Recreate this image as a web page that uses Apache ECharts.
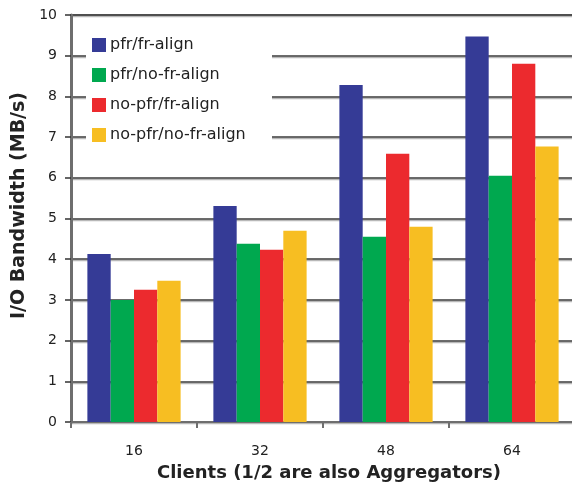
<!DOCTYPE html>
<html><head><meta charset="utf-8">
<script src="https://cdn.jsdelivr.net/npm/echarts@6/dist/echarts.min.js"></script>
<style>html,body{margin:0;padding:0;background:#fff}#c{width:572px;height:489px}</style>
</head><body><div id="c"></div>
<script>
const categories = ['16', '32', '48', '64'];
const seriesNames = ['pfr/fr-align', 'pfr/no-fr-align', 'no-pfr/fr-align', 'no-pfr/no-fr-align'];
const pfrFrAlign = [4.13, 5.31, 8.28, 9.47];
const pfrNoFrAlign = [3.0, 4.38, 4.55, 6.05];
const noPfrFrAlign = [3.25, 4.23, 6.59, 8.8];
const noPfrNoFrAlign = [3.47, 4.7, 4.8, 6.77];
const colors = ['#353b96', '#00a84f', '#ec2a2e', '#f7be22'];
const font = "'DejaVu Sans', Verdana, sans-serif";
const values = [pfrFrAlign, pfrNoFrAlign, noPfrFrAlign, noPfrNoFrAlign];

const chart = echarts.init(document.getElementById('c'), null, {renderer: 'canvas'});
chart.setOption({
  animation: false,
  backgroundColor: '#fff',
  grid: {left: 71, top: 15, width: 504, height: 407, show: true, borderColor: '#8c8c8c', borderWidth: 2, containLabel: false, outerBoundsMode: 'none'},
  graphic: [{
    type: 'rect', left: 86, top: 28, z: 3,
    shape: {width: 186, height: 118},
    style: {fill: '#fff'}
  }],
  legend: {
    left: 86, top: 33,
    orient: 'vertical',
    padding: [4, 27, 8, 6],
    itemWidth: 14, itemHeight: 14, itemGap: 14,
    icon: 'rect',
    textStyle: {fontFamily: font, fontSize: 16, lineHeight: 14, color: '#222', padding: [0, 0, 0, -1]},
    data: seriesNames
  },
  xAxis: {
    type: 'category',
    data: categories,
    name: 'Clients (1/2 are also Aggregators)',
    nameLocation: 'middle',
    nameGap: 42,
    nameTextStyle: {fontFamily: font, fontSize: 18, fontWeight: 'bold', color: '#222', padding: [0, 0, 0, 12]},
    axisLine: {lineStyle: {color: '#6e6e6e', width: 2}},
    axisTick: {show: true, length: 6, lineStyle: {color: '#6e6e6e', width: 2}},
    axisLabel: {fontFamily: font, fontSize: 14, color: '#222', margin: 22}
  },
  yAxis: {
    type: 'value',
    min: 0, max: 10, interval: 1,
    name: 'I/O Bandwidth (MB/s)',
    nameLocation: 'middle',
    nameGap: 42,
    nameRotate: 90,
    nameTextStyle: {fontFamily: font, fontSize: 19, fontWeight: 'bold', color: '#222', padding: [0, 0, 0, 26]},
    axisLine: {show: true, lineStyle: {color: '#6e6e6e', width: 3}},
    axisTick: {show: true, length: 6, inside: false, lineStyle: {color: '#333', width: 1.5}},
    axisLabel: {fontFamily: font, fontSize: 14, color: '#222', margin: 14},
    splitLine: {show: true, lineStyle: {color: '#3a3a3a', width: 1.5, shadowColor: '#b8b8b8', shadowOffsetY: 1.5, shadowBlur: 0}}
  },
  series: seriesNames.map((n, i) => ({
    name: n,
    type: 'bar',
    data: values[i],
    barGap: '0%',
    barCategoryGap: '26%',
    itemStyle: {color: colors[i]}
  }))
});
</script></body></html>
